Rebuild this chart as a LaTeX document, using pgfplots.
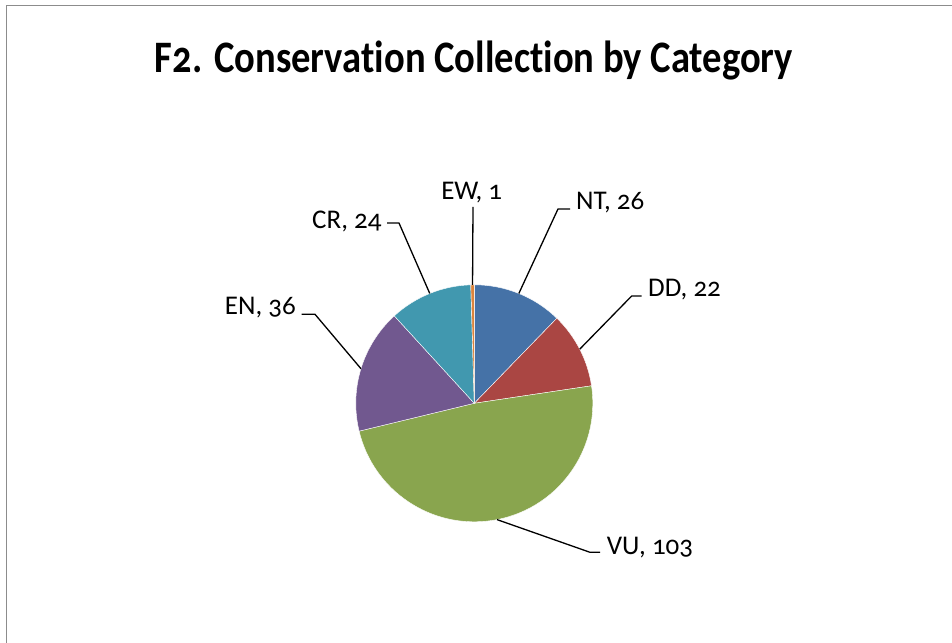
\documentclass[border=0pt]{standalone}
\usepackage{graphicx}
\usepackage{pgfplots}
\pgfplotsset{compat=1.18}
\usepackage{pgfplotstable}
\usepackage{fontspec}
\setmainfont{Carlito}[Numbers=OldStyle, Ligatures=NoCommon]

% Excel 2007 palette
\definecolor{slice0}{HTML}{4572A7}
\definecolor{slice1}{HTML}{AA4643}
\definecolor{slice2}{HTML}{89A54E}
\definecolor{slice3}{HTML}{71588F}
\definecolor{slice4}{HTML}{4198AF}
\definecolor{slice5}{HTML}{DB843D}
\definecolor{frame}{HTML}{8C8C8C}

% clockwise from 12 o'clock
\pgfplotstableread{
name value
NT 26
DD 22
VU 103
EN 36
CR 24
EW 1
}\pietable

\begin{document}
\begin{tikzpicture}
\path[use as bounding box] (0,0) rectangle (952bp,643bp);

% slice angles from the table
\def\tot{0}
\pgfplotsforeachungrouped \i in {0,...,5}{%
  \pgfplotstablegetelem{\i}{value}\of\pietable
  \pgfmathsetmacro\tot{\tot+\pgfplotsretval}%
}
\def\acc{0}
\pgfplotsforeachungrouped \i in {0,...,5}{%
  \pgfplotstablegetelem{\i}{value}\of\pietable
  \let\v=\pgfplotsretval
  \pgfmathsetmacro\sa{90-\acc/\tot*360}%
  \pgfmathsetmacro\ea{90-(\acc+\v)/\tot*360}%
  \pgfmathsetmacro\ma{90-(\acc+\v/2)/\tot*360}%
  \expandafter\xdef\csname s\i\endcsname{\sa}%
  \expandafter\xdef\csname e\i\endcsname{\ea}%
  \expandafter\xdef\csname m\i\endcsname{\ma}%
  \pgfmathsetmacro\acc{\acc+\v}%
}

\begin{axis}[
  at={(474.3bp,239.7bp)}, anchor=center,
  scale only axis, width=284.4bp, height=284.4bp,
  xmin=-1.2, xmax=1.2, ymin=-1.2, ymax=1.2,
  hide axis, clip=false,
]
\pgfplotsinvokeforeach{0,...,5}{
  \fill[slice#1, draw=white, line width=0.4bp]
    (axis cs:0,0) -- (axis cs:{cos(\csname s#1\endcsname)},{sin(\csname s#1\endcsname)})
    arc[start angle=\csname s#1\endcsname, end angle=\csname e#1\endcsname, radius=118.5bp] -- cycle;
  \coordinate (p#1) at (axis cs:{cos(\csname m#1\endcsname)},{sin(\csname m#1\endcsname)});
}
\end{axis}

\begin{scope}[x=1bp, y=-1bp, yshift=643bp]
  \draw[frame, line width=1.3bp] (952,5.5) -- (6.5,5.5) -- (6.5,643);
  \node[anchor=base, inner sep=0pt] at (474,73)
    {\resizebox{638bp}{\height}{\fontsize{45bp}{50bp}\selectfont\bfseries F2. Conservation Collection by Category}};
  \begin{scope}[line width=1.3bp, black]
    \draw (p0) -- (558,209) -- (570,209);
    \draw (p1) -- (631.7,296) -- (641.7,296);
    \draw (p2) -- (590,552.3) -- (600,552.3);
    \draw (p3) -- (315,314.3) -- (301.7,314.3);
    \draw (p4) -- (399,223) -- (387,223);
    \draw (p5) -- (473,207);
  \end{scope}
  \begin{scope}[every node/.style={inner sep=0pt, font=\fontsize{27bp}{31bp}\selectfont}]
    \node[anchor=base west] at (576,209.3) {NT, 26};
    \node[anchor=base west] at (648,296.7) {DD, 22};
    \node[anchor=base west] at (606.7,555) {VU, 103};
    \node[anchor=base east] at (296,315) {EN, 36};
    \node[anchor=base east] at (381.7,228.3) {CR, 24};
    \node[anchor=base] at (471.7,199.3) {EW, 1};
  \end{scope}
\end{scope}
\end{tikzpicture}
\end{document}
